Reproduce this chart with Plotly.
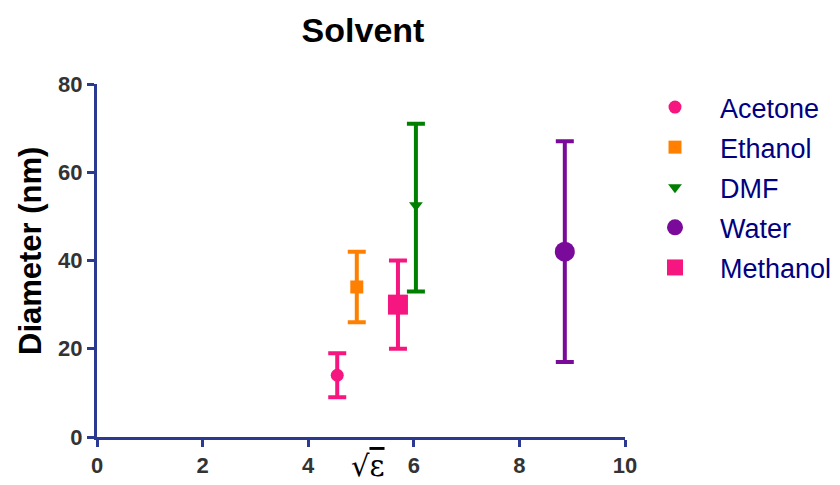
import plotly.graph_objects as go

names = ["Acetone", "Ethanol", "DMF", "Water", "Methanol"]
x_vals = [4.55, 4.92, 6.04, 8.86, 5.70]
y_vals = [14, 34, 52.5, 42, 30]
y_upper = [19, 42, 71, 67, 40]
y_lower = [9, 26, 33, 17, 20]
colors = ["#F5167F", "#FF8000", "#007F00", "#7A0A99", "#F5167F"]
symbols = ["circle", "square", "triangle-down", "circle", "square"]
sizes = [13, 13, 12, 20, 20]

x_ticks = [0, 2, 4, 6, 8, 10]
y_ticks = [0, 20, 40, 60, 80]

axis_color = "#2B3990"

W, H = 832, 477
L, R, T, B = 89, 215, 76, 48
PW, PH = W - L - R, H - T - B

fig = go.Figure()
for i, n in enumerate(names):
    fig.add_trace(go.Scatter(
        x=[x_vals[i]], y=[y_vals[i]], mode="markers", name=n,
        legendgroup=n,
        marker=dict(color=colors[i], symbol=symbols[i], size=sizes[i], line=dict(width=0)),
        error_y=dict(type="data", symmetric=False,
                     array=[y_upper[i] - y_vals[i]],
                     arrayminus=[y_vals[i] - y_lower[i]],
                     color=colors[i], thickness=4, width=9),
    ))

tick_font = dict(family="Liberation Sans, Arial", size=22, color="#333333", weight="bold")

fig.update_layout(
    width=W, height=H,
    margin=dict(l=L, r=R, t=T, b=B, autoexpand=False),
    plot_bgcolor="white", paper_bgcolor="white",
    title=dict(text="<b>Solvent</b>", x=(363 - 8) / W, xanchor="center",
               y=1 - 22 / H, yanchor="middle",
               font=dict(family="Liberation Sans, Arial", size=34, color="black")),
    showlegend=True,
    legend=dict(x=(630 - 8 - L) / PW, y=1 + 1 / PH, xanchor="left", yanchor="top",
                font=dict(family="Liberation Sans, Arial", size=27, color="#000080"),
                tracegroupgap=2, itemwidth=80, bgcolor="rgba(0,0,0,0)"),
    xaxis=dict(range=[0, 10], tickvals=x_ticks, showgrid=False, zeroline=False,
               showline=True, linecolor=axis_color, linewidth=3,
               ticks="outside", ticklen=7, tickwidth=3, tickcolor=axis_color,
               tickfont=tick_font),
    yaxis=dict(range=[0, 80], tickvals=y_ticks, showgrid=False, zeroline=False,
               showline=True, linecolor=axis_color, linewidth=3,
               ticks="outside", ticklen=7, tickwidth=3, tickcolor=axis_color,
               tickfont=tick_font),
)

fig.add_annotation(
    x=(30 - 8 - L) / PW, y=(437 - 251) / 353, xref="paper", yref="paper",
    xanchor="center", yanchor="middle", textangle=-90, showarrow=False,
    text="<b>Diameter (nm)</b>",
    font=dict(family="Liberation Sans, Arial", size=31, color="black"),
)

fig.add_annotation(
    x=5.13, y=0, xref="x", yref="paper", yshift=-29, yanchor="middle", showarrow=False,
    text="√<span style='text-decoration:overline'>ε</span>",
    font=dict(family="DejaVu Serif", size=29, color="black"),
)

fig.write_html("out.html")
